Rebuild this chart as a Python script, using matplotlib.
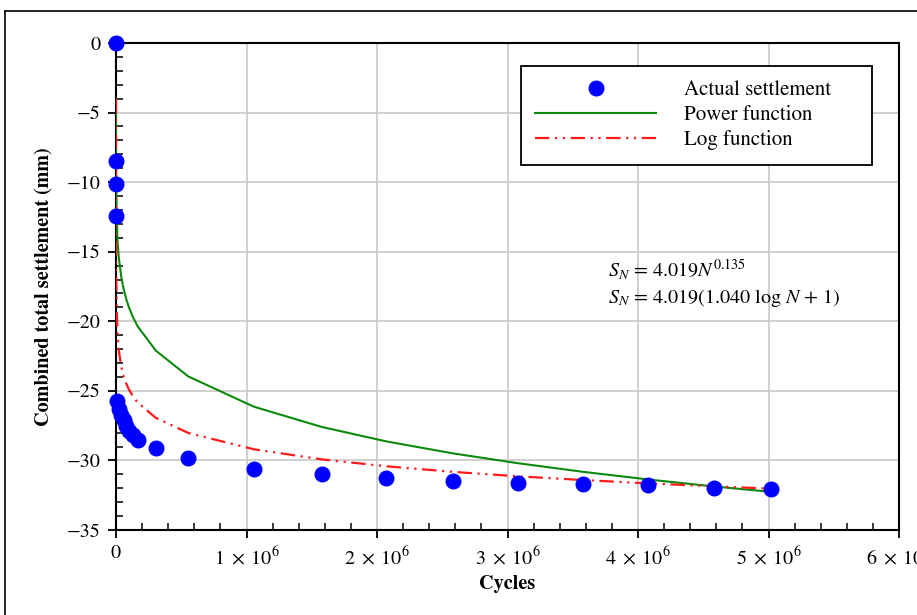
import matplotlib
matplotlib.use("Agg")
import matplotlib.pyplot as plt
from matplotlib.lines import Line2D
from matplotlib.ticker import MultipleLocator, FixedLocator, FixedFormatter

plt.rcParams['font.family'] = ['STIXGeneral', 'DejaVu Serif']
plt.rcParams['mathtext.fontset'] = 'stix'

# Measured data (cycles vs settlement, mm)
cycles = [1, 10, 100, 1000, 10000, 20000, 40000, 60000, 80000, 100000, 130000,
          165000, 305000, 555000, 1057000, 1575000, 2070000, 2580000, 3080000,
          3580000, 4080000, 4580000, 5020000]
settlement = [0, -8.5, -10.1, -12.4, -25.7, -26.3, -26.7, -27.1, -27.5, -27.9, -28.2,
              -28.5, -29.1, -29.85, -30.6, -31.0, -31.25, -31.45, -31.6,
              -31.7, -31.8, -31.95, -32.05]

# Fitted curves read at the same cycle counts
power_fit = [-4.02, -5.48, -7.48, -10.21, -13.94, -15.30, -16.80, -17.75, -18.45, -19.02, -19.70,
             -20.35, -22.11, -23.97, -26.14, -27.59, -28.63, -29.49, -30.20,
             -30.82, -31.37, -31.87, -32.26]
log_fit = [-4.02, -8.20, -12.38, -16.56, -20.74, -22.00, -23.26, -23.99, -24.51, -24.92, -25.39,
           -25.83, -26.94, -28.03, -29.20, -29.92, -30.42, -30.82, -31.14,
           -31.41, -31.65, -31.86, -32.03]

x_ticks = [0, 1e6, 2e6, 3e6, 4e6, 5e6, 6e6]
x_tick_labels = ['0', r'$1\;\times\;10^{6}$', r'$2\;\times\;10^{6}$', r'$3\;\times\;10^{6}$',
                 r'$4\;\times\;10^{6}$', r'$5\;\times\;10^{6}$', r'$6\;\times\;10^{6}$']

fig = plt.figure(figsize=(9.17, 6.15), dpi=100)
ax = fig.add_axes([0.1265, 0.1382, 0.8539, 0.7919])

ax.grid(True, which='major', color='#c8c8c8', lw=1.2)
ax.set_axisbelow(True)

ax.plot(cycles, power_fit, color='#0a8a0a', lw=1.5, label='Power function', zorder=3)
log_line, = ax.plot(cycles, log_fit, color='#ff1a1a', lw=1.6, label='Log function', zorder=4)
log_line.set_dashes([6.5, 2.5, 1, 2.5, 1, 2.5])
ax.plot(cycles, settlement, 'o', color='#0000ff', ms=10.5, label='Actual settlement',
        clip_on=False, zorder=5)

ax.set_xlim(0, 6e6)
ax.set_ylim(-35, 0)
ax.xaxis.set_major_locator(FixedLocator(x_ticks))
ax.xaxis.set_major_formatter(FixedFormatter(x_tick_labels))
ax.xaxis.set_minor_locator(MultipleLocator(2e5))
ax.yaxis.set_major_locator(MultipleLocator(5))
ax.yaxis.set_minor_locator(MultipleLocator(1))

ax.tick_params(which='major', direction='out', length=6, width=1.3, labelsize=14.5, pad=5)
ax.tick_params(which='minor', direction='in', length=5, width=1.1)
for s in ax.spines.values():
    s.set_linewidth(1.5)

ax.set_xlabel('Cycles', fontsize=14.5, fontweight='bold', labelpad=5)
ax.set_ylabel('Combined total settlement (mm)', fontsize=14.5, fontweight='bold', labelpad=10)

handles, labels = ax.get_legend_handles_labels()
order = [2, 0, 1]
leg = ax.legend([handles[i] for i in order], [labels[i] for i in order],
                loc='upper left', bbox_to_anchor=(0.517, 0.7536, 0.4483, 0.1992),
                mode='expand', borderaxespad=0,
                fontsize=15, handlelength=5.8, handletextpad=1.35, numpoints=1,
                labelspacing=0.24, borderpad=0.7, fancybox=False, framealpha=1,
                edgecolor='black')
leg.get_frame().set_linewidth(1.3)

ax.text(3.77e6, -16.8, r'$S_N$ = 4.019$N^{0.135}$', fontsize=14.5, va='baseline')
ax.text(3.77e6, -18.7, r'$S_N$ = 4.019(1.040 log $N$ + 1)', fontsize=14.5, va='baseline')

# outer frame of the figure
fig.add_artist(Line2D([5 / 917, 5 / 917], [0, 1 - 11 / 615], transform=fig.transFigure,
                      color='black', lw=1.2))
fig.add_artist(Line2D([5 / 917, 1], [1 - 11 / 615, 1 - 11 / 615], transform=fig.transFigure,
                      color='black', lw=1.2))

fig.savefig('out.png', dpi=100)
